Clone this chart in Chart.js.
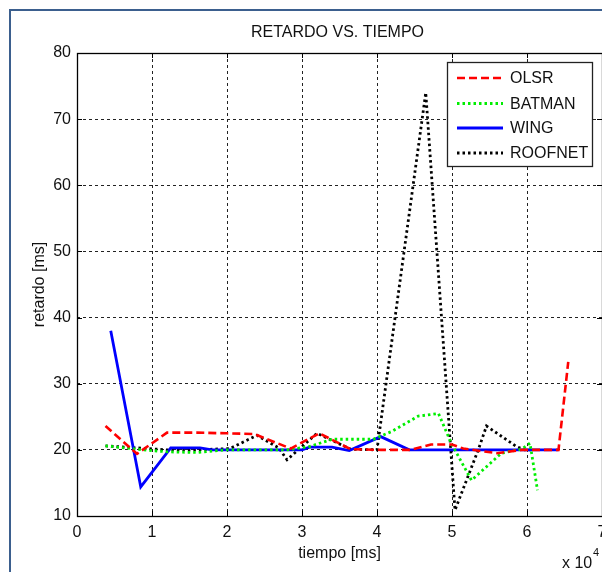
<!DOCTYPE html>
<html><head><meta charset="utf-8">
<script src="https://cdn.jsdelivr.net/npm/chart.js@4.4.0/dist/chart.umd.min.js"></script>
<style>
html,body{margin:0;padding:0;background:#fff;overflow:hidden;}
#wrap{position:relative;width:602px;height:572px;overflow:hidden;}
#frame{position:absolute;left:9px;top:9px;width:700px;height:700px;border-left:2px solid #3b5f8e;border-top:2px solid #3b5f8e;}
canvas{position:absolute;left:0;top:0;}
</style></head><body>
<div id="wrap"><div id="frame"></div><canvas id="c" width="602" height="572"></canvas></div>
<script>
// Series names
const seriesNames = ['OLSR', 'BATMAN', 'WING', 'ROOFNET'];
const chartTitle = 'RETARDO VS. TIEMPO';
// Time values in ms, delay values in ms
const olsrTime  = [3800, 8000, 12000, 16000, 20000, 23600, 28500, 32300, 36500, 40500, 44500, 47200, 50000, 51500, 54000, 56000, 59300, 64200, 65500];
const olsrDelay = [23.6, 19.4, 22.6, 22.6, 22.5, 22.4, 20.2, 22.5, 20.1, 20.0, 20.0, 20.8, 20.8, 20.2, 19.8, 19.5, 20.0, 20.0, 33.3];

const batmanTime  = [3800, 8000, 12000, 16000, 20000, 24000, 28000, 31000, 34000, 39500, 42000, 45500, 48200, 49900, 52600, 56600, 59300, 60400, 61400];
const batmanDelay = [20.6, 20.1, 19.7, 19.6, 20.0, 20.0, 20.0, 20.5, 21.6, 21.6, 22.8, 25.1, 25.5, 21.0, 15.4, 19.5, 20.1, 21.0, 13.9];

const wingTime  = [4500, 8500, 12500, 16400, 18000, 30000, 31000, 34000, 36300, 40500, 44300, 64200];
const wingDelay = [38.0, 14.4, 20.3, 20.3, 20.0, 20.0, 20.4, 20.4, 19.9, 22.0, 20.0, 20.0];

const roofnetTime  = [3800, 8000, 12000, 16000, 20400, 24000, 26900, 28000, 29800, 32000, 36500, 40000, 46500, 50400, 53500, 54600, 58600, 59700, 60600];
const roofnetDelay = [20.6, 20.3, 20.0, 20.0, 20.2, 22.2, 20.3, 18.5, 20.3, 22.5, 20.1, 20.0, 74.0, 10.9, 20.0, 23.6, 20.5, 20.0, 20.0];

const xTickLabels = ['0','1','2','3','4','5','6','7'];
const yTickValues = [10,20,30,40,50,60,70,80];

const pts = (xs, ys) => xs.map((x, i) => ({x: x, y: ys[i]}));
const FONT = "'Liberation Sans', Arial, sans-serif";
const TXT = '#111';

const datasets = [
  {label: seriesNames[0], data: pts(olsrTime, olsrDelay), borderColor: '#ff0000', borderDash: [8, 4], borderWidth: 2.6},
  {label: seriesNames[1], data: pts(batmanTime, batmanDelay), borderColor: '#00ee00', borderDash: [2.5, 3], borderWidth: 2.8},
  {label: seriesNames[2], data: pts(wingTime, wingDelay), borderColor: '#0000ff', borderDash: [], borderWidth: 2.8},
  {label: seriesNames[3], data: pts(roofnetTime, roofnetDelay), borderColor: '#000000', borderDash: [2.5, 3], borderWidth: 2.8}
].map(d => Object.assign(d, {showLine: true, pointRadius: 0, fill: false, tension: 0, borderCapStyle: 'butt'}));

const boxPlugin = {
  id: 'box',
  afterDraw(chart) {
    const {ctx, chartArea: a} = chart;
    ctx.save();
    // title centred over the plot area
    ctx.fillStyle = TXT;
    ctx.font = '16px ' + FONT;
    ctx.textAlign = 'center'; ctx.textBaseline = 'middle';
    ctx.fillText(chartTitle, (a.left + a.right) / 2 - 2, 33);
    // inward ticks
    ctx.strokeStyle = '#000'; ctx.lineWidth = 1; ctx.setLineDash([]);
    const xs = chart.scales.x, ys = chart.scales.y;
    for (let i = 0; i < xTickLabels.length; i++) {
      const px = Math.round(xs.getPixelForValue(i * 10000)) + 0.5;
      ctx.beginPath(); ctx.moveTo(px, a.bottom); ctx.lineTo(px, a.bottom - 5); ctx.stroke();
      ctx.beginPath(); ctx.moveTo(px, a.top); ctx.lineTo(px, a.top + 5); ctx.stroke();
    }
    for (const v of yTickValues) {
      const py = Math.round(ys.getPixelForValue(v)) + 0.5;
      ctx.beginPath(); ctx.moveTo(a.left, py); ctx.lineTo(a.left + 5, py); ctx.stroke();
      ctx.beginPath(); ctx.moveTo(a.right, py); ctx.lineTo(a.right - 5, py); ctx.stroke();
    }
    // box
    ctx.lineWidth = 1.3;
    ctx.strokeRect(Math.round(a.left) + 0.5, Math.round(a.top) + 0.5, Math.round(a.right - a.left), Math.round(a.bottom - a.top));
    // legend
    const lx = 447.5, ly = 62.5, lw = 145, lh = 104;
    ctx.fillStyle = '#fff';
    ctx.fillRect(lx, ly, lw, lh);
    ctx.strokeStyle = '#222'; ctx.lineWidth = 1.3;
    ctx.strokeRect(lx, ly, lw, lh);
    const rows = [78, 103.5, 128, 153];
    chart.data.datasets.forEach((d, i) => {
      ctx.strokeStyle = d.borderColor; ctx.lineWidth = d.borderWidth;
      ctx.setLineDash(d.borderDash);
      ctx.beginPath(); ctx.moveTo(457, rows[i]); ctx.lineTo(503, rows[i]); ctx.stroke();
      ctx.setLineDash([]);
      ctx.fillStyle = TXT;
      ctx.font = '16px ' + FONT;
      ctx.textAlign = 'left'; ctx.textBaseline = 'middle';
      ctx.fillText(d.label, 510, rows[i] + 1);
    });
    // x 10^4
    ctx.fillStyle = TXT;
    ctx.font = '16px ' + FONT;
    ctx.textAlign = 'left'; ctx.textBaseline = 'middle';
    ctx.fillText('x 10', 562, 564);
    ctx.font = '11px ' + FONT;
    ctx.fillText('4', 593, 553);
    ctx.restore();
  }
};

new Chart(document.getElementById('c'), {
  type: 'scatter',
  data: {datasets},
  options: {
    responsive: false,
    animation: false,
    events: [],
    layout: {padding: {left: 0, right: 0, top: 53, bottom: 0}},
    plugins: {
      legend: {display: false},
      tooltip: {enabled: false},
      title: {display: false}
    },
    scales: {
      x: {
        type: 'linear', min: 0, max: 70000,
        afterFit(s) { s.height = 56; s.paddingLeft = 0; s.paddingRight = 0; },
        afterBuildTicks(s) { s.ticks = xTickLabels.map((t, i) => ({value: i * 10000})); },
        ticks: {color: TXT, font: {family: FONT, size: 16}, padding: 7, maxRotation: 0, callback: (v, i) => xTickLabels[i]},
        grid: {color: (c) => (c.index === 0 || c.index === xTickLabels.length - 1) ? 'rgba(0,0,0,0)' : '#222', drawTicks: false, lineWidth: 1},
        border: {display: false, dash: [3, 3]},
        title: {display: true, text: 'tiempo [ms]', color: TXT, font: {family: FONT, size: 16}, padding: {top: 0, bottom: 9}}
      },
      y: {
        type: 'linear', min: 10, max: 80,
        afterFit(s) { s.width = 77; s.paddingTop = 0; s.paddingBottom = 0; },
        afterBuildTicks(s) { s.ticks = yTickValues.map(v => ({value: v})); },
        ticks: {color: TXT, font: {family: FONT, size: 16}, padding: 6, callback: (v) => String(v)},
        grid: {color: (c) => (c.index === 0 || c.index === yTickValues.length - 1) ? 'rgba(0,0,0,0)' : '#222', drawTicks: false, lineWidth: 1},
        border: {display: false, dash: [3, 3]},
        title: {display: true, text: 'retardo [ms]', color: TXT, font: {family: FONT, size: 16}, padding: {top: 30, bottom: 0}}
      }
    }
  },
  plugins: [boxPlugin]
});
</script>
</body></html>
